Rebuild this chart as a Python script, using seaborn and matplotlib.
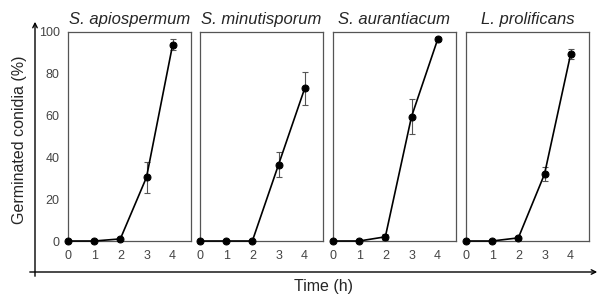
import numpy as np
import pandas as pd
import matplotlib
matplotlib.use("Agg")
import matplotlib.pyplot as plt
import seaborn as sns

# data
time_h = [0, 1, 2, 3, 4]
species = ["S. apiospermum", "S. minutisporum", "S. aurantiacum", "L. prolificans"]
apiospermum = [0, 0, 1, 30.5, 94]
apiospermum_err = [0, 0, 0.5, 7.5, 2.5]
minutisporum = [0, 0, 0, 36.5, 73]
minutisporum_err = [0, 0, 0, 6, 8]
aurantiacum = [0, 0, 2, 59.5, 96.5]
aurantiacum_err = [0, 0, 1.5, 8.5, 1]
prolificans = [0, 0, 1.5, 32, 89.5]
prolificans_err = [0, 0, 0.5, 3.5, 2.5]

values = [apiospermum, minutisporum, aurantiacum, prolificans]
errors = [apiospermum_err, minutisporum_err, aurantiacum_err, prolificans_err]

rows = []
for sp, v, e in zip(species, values, errors):
    for t, y, err in zip(time_h, v, e):
        rows.append({"species": sp, "time": t, "germ": y, "err": err})
df = pd.DataFrame(rows)

sns.set_style("white")
plt.rcParams["font.family"] = ["Liberation Sans", "DejaVu Sans"]

fig = plt.figure(figsize=(6.01, 2.99), dpi=100)
W, H = 601, 299
lefts = [68, 200, 333, 466]
pw = 123
top, bottom = 32, 241
grey = "#555555"

for i, sp in enumerate(species):
    ax = fig.add_axes([lefts[i] / W, 1 - bottom / H, pw / W, (bottom - top) / H])
    sub = df[df.species == sp]
    ax.errorbar(sub.time, sub.germ, yerr=sub.err, fmt="none", ecolor=grey,
                elinewidth=0.8, capsize=2.5, capthick=0.8, zorder=2)
    sns.lineplot(data=sub, x="time", y="germ", ax=ax, color="black", lw=1.2,
                 marker="o", markersize=5, markeredgecolor="black", zorder=3,
                 clip_on=False)
    ax.set_xlim(0, 4.7)
    ax.set_ylim(0, 100)
    ax.set_xticks(time_h)
    ax.set_yticks([0, 20, 40, 60, 80, 100])
    ax.set_xlabel("")
    ax.set_ylabel("")
    ax.set_title(sp, style="italic", fontsize=12, pad=6)
    ax.tick_params(axis="x", direction="inout", length=5, width=0.8, color=grey,
                   labelsize=9, labelcolor="#444444", pad=4)
    ax.tick_params(axis="y", direction="out", length=3, width=0.8, color=grey,
                   labelsize=9, labelcolor="#444444", pad=3)
    if i > 0:
        ax.set_yticklabels([])
    for s in ax.spines.values():
        s.set_color(grey)
        s.set_linewidth(0.9)

# outer arrows
fig.add_artist(matplotlib.patches.FancyArrowPatch(
    (35 / W, 1 - 279 / H), (35 / W, 1 - 19 / H), transform=fig.transFigure,
    arrowstyle="->", mutation_scale=8, color="black", lw=1.0))
fig.add_artist(matplotlib.patches.FancyArrowPatch(
    (27 / W, 1 - 272 / H), (600 / W, 1 - 272 / H), transform=fig.transFigure,
    arrowstyle="->", mutation_scale=8, color="black", lw=1.0))

fig.text(20 / W, 1 - 140 / H, "Germinated conidia (%)", rotation=90,
         ha="center", va="center", fontsize=11.5)
fig.text(323 / W, 1 - 287 / H, "Time (h)", ha="center", va="center", fontsize=11.5)

fig.savefig("out.png", dpi=100)
